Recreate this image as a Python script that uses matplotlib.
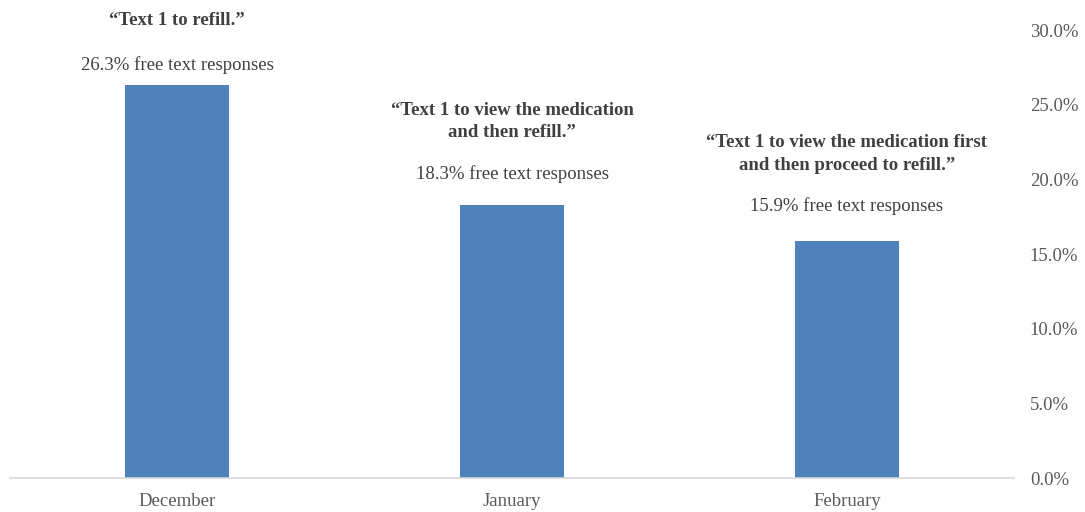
import matplotlib.pyplot as plt
from matplotlib.ticker import PercentFormatter

plt.rcParams['font.family'] = ['Liberation Serif', 'DejaVu Serif']

# data
months = ['December', 'January', 'February']
shares = [26.3, 18.3, 15.9]
quotes = ['\u201cText 1 to refill.\u201d',
          '\u201cText 1 to view the medication\nand then refill.\u201d',
          '\u201cText 1 to view the medication first\nand then proceed to refill.\u201d']

# label placement (px above bar top) - the boxes were placed by hand
pct_gap = [20, 31, 35]
quote_gap = [56, 64, 67]

fig = plt.figure(figsize=(10.85, 5.12), dpi=100)
ax = fig.add_axes([0.0088, 0.0664, 0.9262, 0.8750])

x = range(len(months))
ax.bar(x, shares, width=0.31, color='#4F81BD', zorder=2)

px = 72 / fig.dpi  # points per pixel
for i, v in enumerate(shares):
    ax.annotate(f'{v:.1f}% free text responses', (i, v), xytext=(0, pct_gap[i] * px),
                textcoords='offset points', ha='center', va='center',
                fontsize=13.5, color='#404040')
    ax.annotate(quotes[i], (i, v), xytext=(0, quote_gap[i] * px),
                textcoords='offset points', ha='center', va='bottom',
                fontsize=13.5, fontweight='bold', color='#404040',
                linespacing=1.4)

ax.set_xlim(-0.5, 2.5)
ax.set_ylim(0, 30)
ax.set_yticks(range(0, 31, 5))
ax.yaxis.set_major_formatter(PercentFormatter(decimals=1))
ax.yaxis.tick_right()
ax.set_xticks(list(x))
ax.set_xticklabels(months)
ax.tick_params(axis='both', length=0, labelsize=13.5, colors='#595959')
ax.tick_params(axis='y', pad=11)
ax.tick_params(axis='x', pad=11)

for s in ['top', 'left', 'right']:
    ax.spines[s].set_visible(False)
ax.spines['bottom'].set_color('#D9D9D9')
ax.spines['bottom'].set_linewidth(1.2)

fig.savefig('out.png', dpi=100)
